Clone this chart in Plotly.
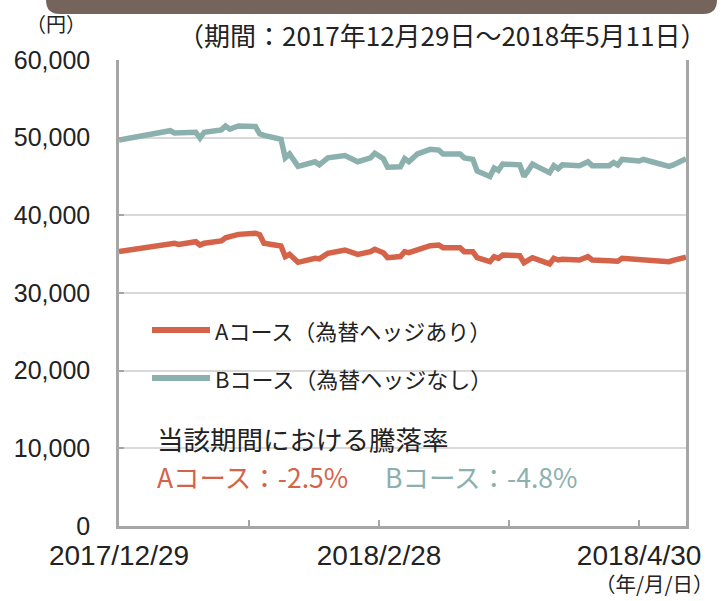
import plotly.graph_objects as go

# ---- data ----
dates = [
    "2017-12-29", "2018-01-04", "2018-01-10", "2018-01-11", "2018-01-12", "2018-01-16",
    "2018-01-17", "2018-01-18", "2018-01-22", "2018-01-23", "2018-01-24", "2018-01-26",
    "2018-01-30", "2018-01-31", "2018-02-01", "2018-02-05", "2018-02-06", "2018-02-07",
    "2018-02-09", "2018-02-13", "2018-02-14", "2018-02-16", "2018-02-20", "2018-02-23",
    "2018-02-26", "2018-02-27", "2018-03-01", "2018-03-02", "2018-03-05", "2018-03-06",
    "2018-03-07", "2018-03-09", "2018-03-12", "2018-03-14", "2018-03-15", "2018-03-19",
    "2018-03-20", "2018-03-22", "2018-03-23", "2018-03-26", "2018-03-27", "2018-03-28",
    "2018-03-29", "2018-04-02", "2018-04-03", "2018-04-05", "2018-04-06", "2018-04-09",
    "2018-04-10", "2018-04-11", "2018-04-12", "2018-04-16", "2018-04-18", "2018-04-19",
    "2018-04-23", "2018-04-24", "2018-04-25", "2018-04-26", "2018-04-30", "2018-05-01",
    "2018-05-03", "2018-05-07", "2018-05-08", "2018-05-11",
]
course_a = [
    35350, 35850, 36180, 36400, 36250, 36600,
    36180, 36400, 36700, 37100, 37250, 37550,
    37690, 37500, 36400, 36050, 34680, 34980,
    33950, 34470, 34400, 35110, 35540, 34980,
    35320, 35630, 35190, 34550, 34700, 35320,
    35200, 35630, 36090, 36180, 35840, 35840,
    35320, 35320, 34550, 34030, 34680, 34470,
    34890, 34800, 33900, 34550, 34300, 33740,
    34470, 34250, 34350, 34250, 34680, 34250,
    34160, 34100, 34100, 34470, 34340, 34300,
    34250, 34030, 34200, 34600,
]
course_b = [
    49700, 50350, 50900, 50600, 50600, 50700,
    49950, 50700, 51000, 51500, 51100, 51500,
    51450, 50500, 50300, 49800, 47400, 47900,
    46300, 46900, 46500, 47400, 47700, 46900,
    47400, 48000, 47300, 46200, 46250, 47300,
    46900, 47900, 48500, 48400, 47900, 47900,
    47400, 47200, 45700, 45000, 46100, 45800,
    46600, 46500, 45000, 46600, 46300, 45500,
    46400, 46000, 46500, 46400, 46900, 46400,
    46400, 46800, 46500, 47200, 47000, 47200,
    46900, 46300, 46500, 47300,
]
series_names = ["Aコース（為替ヘッジあり）", "Bコース（為替ヘッジなし）"]
y_ticks = [0, 10000, 20000, 30000, 40000, 50000, 60000]
x_tickvals = ["2017-12-29", "2018-01-28 12:00", "2018-02-28", "2018-03-30 12:00", "2018-04-30"]
x_ticktext = ["2017/12/29", "", "2018/2/28", "", "2018/4/30"]
returns_text = ["Aコース：-2.5%", "Bコース：-4.8%"]

RED = "#d5634a"
TEAL = "#8bb0ae"
AXIS = "#a6a6a6"
GRID = "#d9d9d9"
JP = "Noto Sans CJK JP"

W, H = 724, 601
L, R, T, B = 119, 686, 60, 526


def px(x):
    return (x - L) / (R - L)


def py(y):
    return (B - y) / (B - T)


fig = go.Figure()
fig.add_trace(go.Scatter(x=dates, y=course_a, mode="lines", name=series_names[0],
                         line=dict(color=RED, width=5.5), showlegend=False))
fig.add_trace(go.Scatter(x=dates, y=course_b, mode="lines", name=series_names[1],
                         line=dict(color=TEAL, width=5.5), showlegend=False))

shapes = []
# header bar with rounded bottom corners
x0, x1, yt, yb, r = 46, 717, -4, 14, 14
path = (f"M {px(x0)},{py(yt)} L {px(x0)},{py(yb - r)} "
        f"Q {px(x0)},{py(yb)} {px(x0 + r)},{py(yb)} "
        f"L {px(x1 - r)},{py(yb)} Q {px(x1)},{py(yb)} {px(x1)},{py(yb - r)} "
        f"L {px(x1)},{py(yt)} Z")
shapes.append(dict(type="path", xref="paper", yref="paper", path=path,
                   fillcolor="#74645b", line=dict(width=0), layer="above"))
# legend samples
for yy, col in [(330, RED), (378, TEAL)]:
    shapes.append(dict(type="line", xref="paper", yref="paper",
                       x0=px(152), x1=px(210), y0=py(yy), y1=py(yy),
                       line=dict(color=col, width=6)))

ann = []
ann.append(dict(text="（円）", x=px(56), y=py(23), xref="paper", yref="paper",
                showarrow=False, xanchor="center", yanchor="middle",
                font=dict(family=JP, size=20, color="#222")))
ann.append(dict(text="（期間：2017年12月29日～2018年5月11日）", x=px(708), y=py(35),
                xref="paper", yref="paper", showarrow=False, xanchor="right",
                yanchor="middle", font=dict(family=JP, size=26, color="#222")))
ann.append(dict(text=series_names[0], x=px(213), y=py(330), xref="paper", yref="paper",
                showarrow=False, xanchor="left", yanchor="middle",
                font=dict(family=JP, size=22, color="#222")))
ann.append(dict(text=series_names[1], x=px(213), y=py(378), xref="paper", yref="paper",
                showarrow=False, xanchor="left", yanchor="middle",
                font=dict(family=JP, size=22, color="#222")))
ann.append(dict(text="当該期間における騰落率", x=px(155), y=py(438), xref="paper", yref="paper",
                showarrow=False, xanchor="left", yanchor="middle",
                font=dict(family=JP, size=26.5, color="#222")))
ann.append(dict(text=returns_text[0], x=px(155), y=py(476), xref="paper", yref="paper",
                showarrow=False, xanchor="left", yanchor="middle",
                font=dict(family=JP, size=26.5, color=RED)))
ann.append(dict(text=returns_text[1], x=px(383), y=py(476), xref="paper", yref="paper",
                showarrow=False, xanchor="left", yanchor="middle",
                font=dict(family=JP, size=26.5, color=TEAL)))
ann.append(dict(text="（年/月/日）", x=px(716), y=py(600), xref="paper", yref="paper",
                showarrow=False, xanchor="right", yanchor="bottom",
                font=dict(family=JP, size=20.5, color="#222")))

fig.update_layout(
    width=W, height=H,
    margin=dict(l=L, r=W - R, t=T, b=H - B, pad=0),
    paper_bgcolor="white", plot_bgcolor="white",
    font=dict(family=JP, color="#222"),
    shapes=shapes, annotations=ann,
    showlegend=False,
)
fig.update_xaxes(
    type="date", range=["2017-12-29", "2018-05-11"],
    tickmode="array", tickvals=x_tickvals, ticktext=x_ticktext,
    ticks="inside", ticklen=6, tickwidth=2, tickcolor=AXIS,
    showline=True, linecolor=AXIS, linewidth=2.5,
    showgrid=False, zeroline=False,
    tickfont=dict(family="Liberation Sans", size=28, color="#222"),
    ticklabelstandoff=3,
)
fig.update_yaxes(
    range=[0, 60000], tickmode="array", tickvals=y_ticks,
    tickformat=",d",
    ticks="inside", ticklen=5, tickwidth=2, tickcolor=AXIS,
    showline=True, linecolor=AXIS, linewidth=2.5, mirror=True,
    showgrid=True, gridcolor=GRID, gridwidth=2, zeroline=False,
    tickfont=dict(family="Liberation Sans", size=25, color="#222"),
    ticklabelstandoff=21,
)

fig.write_html(
    "out.html",
    config={"displayModeBar": False},
    post_script="document.body.style.margin='0';document.body.style.overflow='hidden';",
)
